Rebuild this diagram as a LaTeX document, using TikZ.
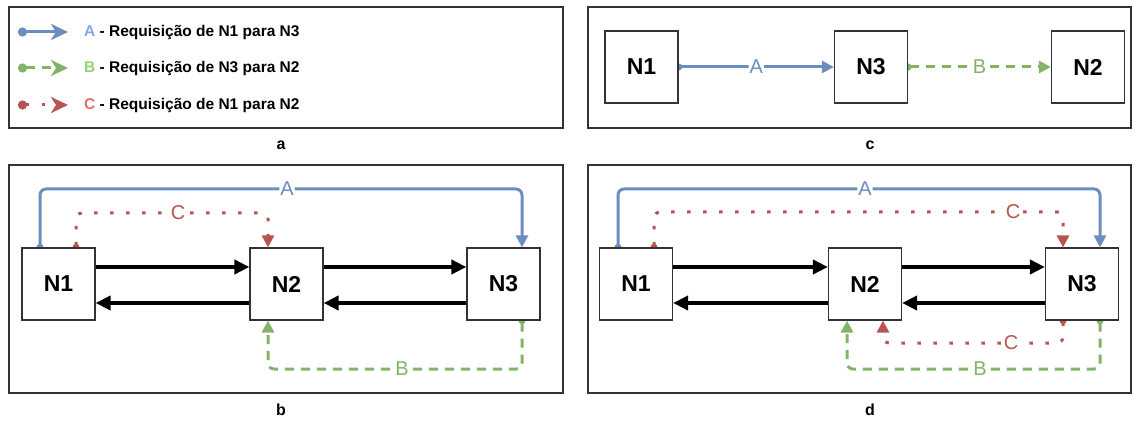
\documentclass[tikz,border=0pt]{standalone}
\usepackage{fontspec}
\setmainfont{Liberation Sans}
\usetikzlibrary{arrows.meta,backgrounds}
\definecolor{reqBlue}{HTML}{6C8EBF}
\definecolor{reqGreen}{HTML}{82B366}
\definecolor{reqRed}{HTML}{B85450}
\definecolor{labBlue}{HTML}{7EA6E0}
\definecolor{labGreen}{HTML}{97D077}
\definecolor{labRed}{HTML}{EA6B66}
\definecolor{frameGray}{HTML}{333333}

\begin{document}
\begin{tikzpicture}[x=1pt,y=-1pt,
    panel/.style={draw=frameGray,line width=1.4pt},
    host/.style={draw=frameGray,fill=white,line width=1.2pt,minimum width=73pt,minimum height=72pt,inner sep=0pt,font=\fontsize{23}{27}\selectfont\bfseries},
    link/.style={line width=4pt,-{Triangle[length=15pt,width=14pt]}},
    req/.style={line width=3pt,rounded corners=6pt,shorten <=-3.5pt,{Circle[length=7pt]}-{Triangle[length=12pt,width=12pt]}},
    reqA/.style={req,reqBlue},
    reqB/.style={req,reqGreen,dash pattern=on 9pt off 7pt},
    reqC/.style={req,reqRed,dash pattern=on 3.5pt off 12.5pt},
    keyline/.style={shorten <=0pt,{Circle[length=9pt]}-{Stealth[length=17pt,width=16pt,inset=5pt]}},
    lab/.style={fill=white,inner sep=1pt,font=\fontsize{20}{24}\selectfont},
    tag/.style={font=\fontsize{16}{19}\selectfont\bfseries}
  ]
  \useasboundingbox (0,0) rectangle (1135,422);

  % hosts
  \foreach \n/\x in {1/58.5,2/286.5,3/503.5} {
    \node[host] (n\n b) at (\x,284) {N\n};
  }
  \foreach \n/\x in {1/636,2/865,3/1082} {
    \node[host] (n\n d) at (\x,284) {N\n};
  }
  \node[host] (n1c) at (641.5,67) {N1};
  \node[host] (n3c) at (871,67) {N3};
  \node[host] (n2c) at (1088,67) {N2};

  % links between neighbours
  \foreach \p in {b,d} {
    \draw[link] ([yshift=17pt]n1\p.east) -- ([yshift=17pt]n2\p.west);
    \draw[link] ([yshift=-19pt]n2\p.west) -- ([yshift=-19pt]n1\p.east);
    \draw[link] ([yshift=17pt]n2\p.east) -- ([yshift=17pt]n3\p.west);
    \draw[link] ([yshift=-19pt]n3\p.west) -- ([yshift=-19pt]n2\p.east);
  }

  % legend
  \foreach \y/\st/\lc/\lt/\txt in {32/reqA/labBlue/A/{N1 para N3},68/reqB/labGreen/B/{N3 para N2},105/reqC/labRed/C/{N1 para N2}} {
    \draw[\st,keyline] (18,\y) -- (68,\y);
    \node[anchor=west,inner sep=0pt,font=\fontsize{15.5}{18}\selectfont\bfseries] (key\lt) at (84,\y) {\textcolor{\lc}{\lt} - Requisição de \txt};
  }

  \node[tag] (tagA) at (281,145) {a};
  \node[tag] (tagB) at (281,410) {b};
  \node[tag] (tagC) at (870,145) {c};
  \node[tag] (tagD) at (870,410) {d};

  \begin{scope}[on background layer]
    \draw[panel] (9,7) rectangle (563,128);
    \draw[panel] (588,7) rectangle (1131,128);
    \draw[panel] (9,165) rectangle (563,393);
    \draw[panel] (588,165) rectangle (1131,393);

    % c: chained requests
    \draw[reqA] (n1c) -- node[lab] {A} (n3c);
    \draw[reqB] (n3c) -- node[lab] {B} (n2c);

    % b
    \draw[reqA] ([xshift=-18.5pt]n1b.north) |- (287,189) node[lab] {A} -| ([xshift=18.5pt]n3b.north);
    \draw[reqC] ([xshift=17.5pt]n1b.north) |- (178,213) node[lab] {C} -| ([xshift=-18.5pt]n2b.north);
    \draw[reqB] ([xshift=18.5pt]n3b.south) |- (402,369) node[lab] {B} -| ([xshift=-18.5pt]n2b.south);

    % d
    \draw[reqA] ([xshift=-18pt]n1d.north) |- (865,189) node[lab] {A} -| ([xshift=18pt]n3d.north);
    \draw[reqC] ([xshift=18pt]n1d.north) |- (1013,212) node[lab] {C} -| ([xshift=-19pt]n3d.north);
    \draw[reqC] ([xshift=-19pt]n3d.south) |- (1011,343) node[lab] {C} -| ([xshift=18pt]n2d.south);
    \draw[reqB] ([xshift=18pt]n3d.south) |- (980,369) node[lab] {B} -| ([xshift=-18pt]n2d.south);
  \end{scope}
\end{tikzpicture}
\end{document}
